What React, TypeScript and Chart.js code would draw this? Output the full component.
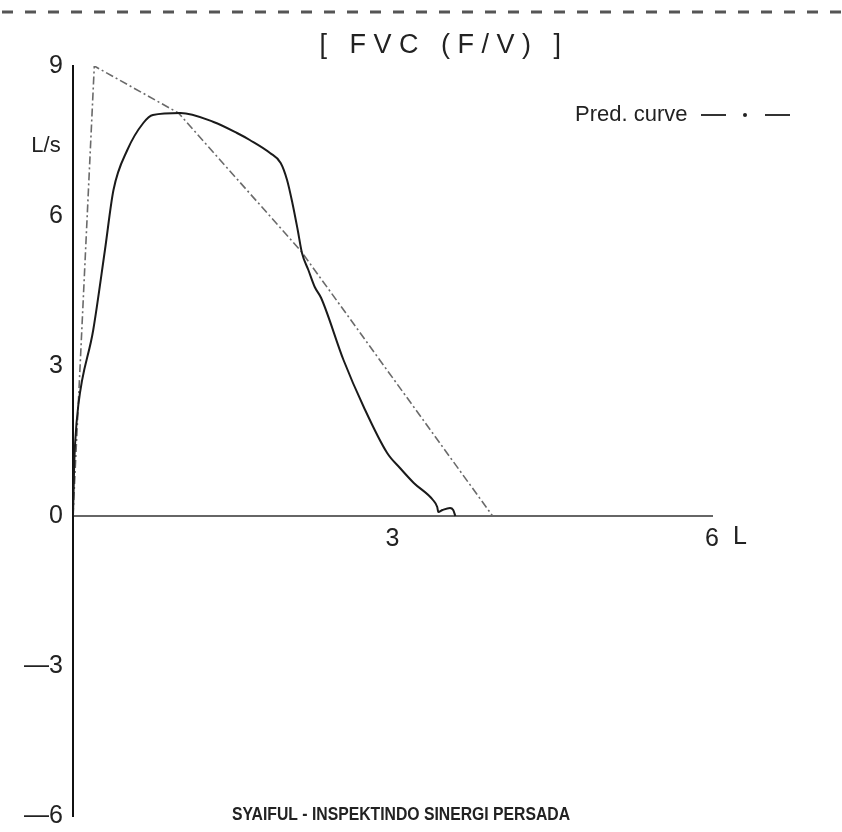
import React, { useEffect, useRef } from 'react';
import { Chart, registerables } from 'chart.js';

Chart.register(...registerables);

// Measured flow-volume curve (volume in L, flow in L/s)
const measuredVolume = [
  0, 0.01, 0.02, 0.05, 0.19, 0.30, 0.38, 0.51, 0.66, 0.75, 1.01, 1.32, 1.54, 1.66,
  1.85, 1.95, 2.01, 2.06, 2.11, 2.15, 2.21, 2.27, 2.33, 2.54, 2.73, 2.95, 3.07,
  3.20, 3.38, 3.42, 3.43, 3.47, 3.54, 3.57, 3.59,
];
const measuredFlow = [
  0, 0.92, 1.46, 2.22, 3.72, 5.32, 6.52, 7.32, 7.86, 8.02, 8.06, 7.88, 7.66, 7.52,
  7.26, 7.06, 6.72, 6.26, 5.72, 5.26, 4.92, 4.58, 4.36, 3.12, 2.18, 1.26, 0.96,
  0.66, 0.32, 0.18, 0.08, 0.12, 0.16, 0.12, 0,
];

// Predicted curve
const predVolume = [0, 0.2, 0.99, 2.14, 3.94];
const predFlow = [0, 9.0, 8.06, 5.3, 0];

// Axes
const yTickValues = [9, 6, 3, 0, -3, -6];
const xTickValues = [3, 6];
const yMin = -6;
const yMax = 9;
const xMin = 0;
const xMax = 6;

// Texts
const titleText = '[ FVC (F/V) ]';
const yUnitText = 'L/s';
const yUnitAt = 7.4;
const xUnitText = 'L';
const legendText = 'Pred. curve';
const footerText = 'SYAIFUL - INSPEKTINDO SINERGI PERSADA';

const TICK_FONT = '"Liberation Sans", Arial, sans-serif';

const decorPlugin = {
  id: 'decor',
  afterDraw(chart: any) {
    const { ctx, chartArea, scales } = chart;
    const w = chart.width;
    ctx.save();
    // top dashed rule
    ctx.strokeStyle = '#555';
    ctx.lineWidth = 3;
    ctx.setLineDash([11, 12]);
    ctx.beginPath();
    ctx.moveTo(2, 12);
    ctx.lineTo(w, 12);
    ctx.stroke();
    ctx.setLineDash([]);

    // title
    ctx.fillStyle = '#222';
    ctx.font = `27px ${TICK_FONT}`;
    ctx.textAlign = 'center';
    ctx.textBaseline = 'middle';
    try { (ctx as any).letterSpacing = '7.5px'; } catch (e) {}
    ctx.fillText(titleText, 444, 46);
    try { (ctx as any).letterSpacing = '0px'; } catch (e) {}

    // y unit
    ctx.font = `22px ${TICK_FONT}`;
    ctx.textAlign = 'center';
    ctx.fillText(yUnitText, 46, scales.y.getPixelForValue(yUnitAt));

    // x unit
    ctx.font = `25px ${TICK_FONT}`;
    ctx.textAlign = 'center';
    ctx.fillText(xUnitText, scales.x.getPixelForValue(xMax) + 28, scales.y.getPixelForValue(0) + 21);

    // legend
    const ly = 115;
    ctx.font = `22px ${TICK_FONT}`;
    ctx.textAlign = 'left';
    ctx.fillText(legendText, 575, ly);
    ctx.strokeStyle = '#333';
    ctx.lineWidth = 2;
    ctx.beginPath();
    ctx.moveTo(701, ly);
    ctx.lineTo(726, ly);
    ctx.moveTo(765, ly);
    ctx.lineTo(790, ly);
    ctx.stroke();
    ctx.beginPath();
    ctx.arc(745, ly, 2, 0, Math.PI * 2);
    ctx.fill();

    // footer
    ctx.font = `bold 18px ${TICK_FONT}`;
    ctx.textAlign = 'center';
    ctx.fillStyle = '#222';
    ctx.fillText(footerText, 401, chartArea.bottom - 1, 338);
    ctx.restore();
  },
};

export default function App() {
  const ref = useRef<HTMLCanvasElement | null>(null);

  useEffect(() => {
    if (!ref.current) return;
    const chart = new Chart(ref.current, {
      type: 'scatter',
      data: {
        datasets: [
          {
            label: 'Measured',
            data: measuredVolume.map((v, i) => ({ x: v, y: measuredFlow[i] })),
            showLine: true,
            borderColor: '#1a1a1a',
            borderWidth: 2,
            pointRadius: 0,
            cubicInterpolationMode: 'monotone',
          },
          {
            label: legendText,
            data: predVolume.map((v, i) => ({ x: v, y: predFlow[i] })),
            showLine: true,
            borderColor: '#6a6a6a',
            borderWidth: 1.6,
            borderDash: [8, 3, 2, 3],
            pointRadius: 0,
            tension: 0,
          },
        ],
      },
      options: {
        animation: false,
        responsive: false,
        layout: { padding: { top: 66, right: 130, bottom: 16, left: 0 } },
        plugins: {
          legend: { display: false },
          title: { display: false },
          tooltip: { enabled: false },
        },
        scales: {
          x: {
            type: 'linear',
            min: xMin,
            max: xMax,
            position: { y: 0 } as any,
            afterBuildTicks: (s: any) => {
              s.ticks = xTickValues.map((v) => ({ value: v }));
            },
            afterFit: (s: any) => {
              s.height = 0;
              s.paddingLeft = 0;
              s.paddingRight = 0;
            },
            ticks: {
              color: '#222',
              font: { family: TICK_FONT, size: 25 },
              padding: 8,
              maxRotation: 0,
              autoSkip: false,
              callback: (v: any) => String(v),
            },
            grid: { display: false, drawTicks: false },
            border: { display: true, color: '#666', width: 2 },
          },
          y: {
            type: 'linear',
            min: yMin,
            max: yMax,
            afterBuildTicks: (s: any) => {
              s.ticks = yTickValues.map((v) => ({ value: v }));
            },
            afterFit: (s: any) => {
              s.width = 73;
              s.paddingTop = 0;
              s.paddingBottom = 0;
            },
            ticks: {
              color: '#222',
              font: { family: TICK_FONT, size: 25 },
              padding: 10,
              autoSkip: false,
              callback: (v: any) => (v < 0 ? '\u2014' + Math.abs(v) : String(v)),
            },
            grid: { display: false, drawTicks: false },
            border: { display: true, color: '#111', width: 2 },
          },
        },
      },
      plugins: [decorPlugin],
    });
    return () => chart.destroy();
  }, []);

  return (
    <div style={{ position: 'absolute', left: 0, top: 0, width: 842, height: 832, background: '#fff' }}>
      <canvas ref={ref} width={842} height={832} style={{ display: 'block' }} />
    </div>
  );
}
